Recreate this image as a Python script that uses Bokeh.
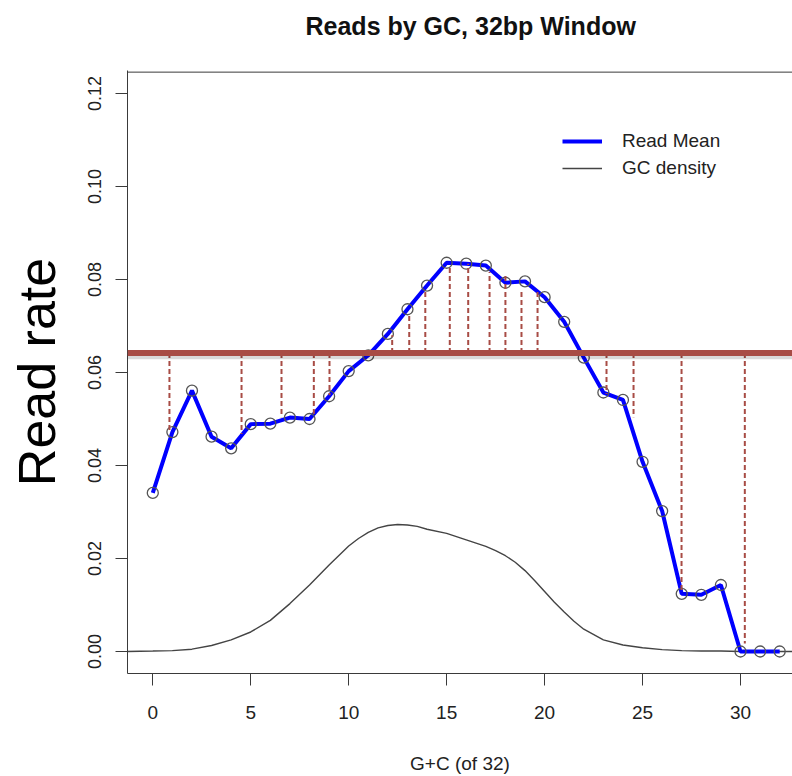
from bokeh.plotting import figure
from bokeh.models import (Range1d, FixedTicker, NumeralTickFormatter, Span, Legend,
                          LegendItem, ColumnDataSource, Title)
from bokeh.embed import file_html
from bokeh.resources import INLINE

# ---- data ----
gc_count = list(range(33))
read_mean = [0.0341, 0.0472, 0.0561, 0.0462, 0.0437, 0.0489, 0.0490, 0.0503, 0.0500,
             0.0549, 0.0603, 0.0637, 0.0683, 0.0736, 0.0787, 0.0836, 0.0834, 0.0830,
             0.0793, 0.0796, 0.0762, 0.0709, 0.0632, 0.0557, 0.0541, 0.0408, 0.0302,
             0.0124, 0.0122, 0.0143, 0.0, 0.0, 0.0]

density_x = [-1.3, 0, 1, 2, 3, 4, 5, 6, 7, 8, 9, 10, 10.5, 11, 11.5, 12, 12.5, 13, 13.5,
             14, 15, 16, 17, 17.5, 18, 18.5, 19, 19.5, 20, 20.5, 21, 21.5, 22, 23, 24,
             25, 26, 27, 28, 29, 30, 31, 32, 32.7]
density_y = [0.0000, 0.0001, 0.0002, 0.0005, 0.0013, 0.0025, 0.0042, 0.0067, 0.0103,
             0.0143, 0.0186, 0.0227, 0.0243, 0.0256, 0.0266, 0.0271, 0.0273, 0.0272,
             0.0269, 0.0263, 0.0254, 0.0240, 0.0226, 0.0217, 0.0206, 0.0192, 0.0174,
             0.0152, 0.0129, 0.0106, 0.0085, 0.0065, 0.0048, 0.0025, 0.0014, 0.0008,
             0.0004, 0.0002, 0.0001, 0.0001, 0.0, 0.0, 0.0, 0.0]

baseline_rate = 0.0642
resid_x = [0.85, 4.53, 6.57, 8.22, 9.02, 12.22, 13.09, 13.91, 15.16, 16.10, 17.19,
           18.00, 18.82, 19.64, 23.16, 24.54, 26.99, 30.22]
resid_end = [0.0472, 0.0468, 0.0504, 0.0504, 0.0551, 0.0680, 0.0726, 0.0776, 0.0830,
             0.0834, 0.0816, 0.0812, 0.0773, 0.0773, 0.0554, 0.0504, 0.0131, 0.0017]

x_ticks = [0, 5, 10, 15, 20, 25, 30]
y_ticks = [0.0, 0.02, 0.04, 0.06, 0.08, 0.10, 0.12]

FONT = "Liberation Sans"
RED = "#a84c45"
AX = "#3a3a3a"

p = figure(width=792, height=776, output_backend="svg", toolbar_location=None,
           x_range=Range1d(-1.291, 32.654), y_range=Range1d(-0.00473, 0.12495),
           min_border_left=127, min_border_right=0, min_border_top=70,
           min_border_bottom=103, title="Reads by GC, 32bp Window")
p.outline_line_color = None
p.grid.visible = False
p.background_fill_color = "white"
p.border_fill_color = "white"

p.title.text_font = FONT
p.title.text_font_size = "25px"
p.title.text_font_style = "bold"
p.title.text_color = "#111111"
p.title.align = "left"
p.title.offset = 178
p.title.vertical_align = "top"
p.title.standoff = 18

# empty spacer between the frame and the title
p.add_layout(Title(text=" ", text_font_size="14px", standoff=2), "above")

# axes
xa = p.xaxis[0]
xa.ticker = FixedTicker(ticks=x_ticks)
xa.major_tick_out = 12
xa.major_tick_in = 0
xa.minor_tick_out = 0
xa.minor_tick_in = 0
xa.axis_line_color = AX
xa.major_tick_line_color = AX
xa.major_label_text_font = FONT
xa.major_label_text_font_size = "19px"
xa.major_label_text_color = "#222222"
xa.major_label_standoff = 20
xa.axis_label = "G+C (of 32)"
xa.axis_label_text_font = FONT
xa.axis_label_text_font_size = "19px"
xa.axis_label_text_font_style = "normal"
xa.axis_label_text_color = "#222222"
xa.axis_label_standoff = 31

ya = p.yaxis[0]
ya.ticker = FixedTicker(ticks=y_ticks)
ya.formatter = NumeralTickFormatter(format="0.00")
ya.major_label_orientation = "vertical"
ya.major_tick_out = 12
ya.major_tick_in = 0
ya.minor_tick_out = 0
ya.minor_tick_in = 0
ya.axis_line_color = AX
ya.major_tick_line_color = AX
ya.major_label_text_font = FONT
ya.major_label_text_font_size = "18px"
ya.major_label_text_color = "#222222"
ya.major_label_standoff = 14
ya.axis_label = "Read rate"
ya.axis_label_text_font = FONT
ya.axis_label_text_font_size = "52px"
ya.axis_label_text_font_style = "normal"
ya.axis_label_text_color = "black"
ya.axis_label_standoff = 20

# top border of the box
p.add_layout(Span(location=0.1246, dimension="width", line_color=AX, line_width=1))

dens = p.line(density_x, density_y, line_color="#444444", line_width=1.4)
blue = p.line(gc_count, read_mean, line_color="#0000ff", line_width=4)
p.scatter(gc_count, read_mean, marker="circle", size=11, fill_color=None,
          line_color="#555555", line_width=1.3)

src = ColumnDataSource(dict(x=resid_x, y0=[baseline_rate] * len(resid_x), y1=resid_end))
p.segment(x0="x", y0="y0", x1="x", y1="y1", source=src, line_color=RED,
          line_width=2, line_dash="5 3")

# overlay baseline with soft shadow
p.add_layout(Span(location=baseline_rate - 0.0008, dimension="width", line_color="black",
                  line_alpha=0.15, line_width=5))
p.add_layout(Span(location=baseline_rate, dimension="width", line_color=RED, line_width=6))

legend = Legend(items=[LegendItem(label="Read Mean", renderers=[blue]),
                       LegendItem(label="GC density", renderers=[dens])],
                location=(435, 494), border_line_color=None, background_fill_alpha=0,
                padding=0, margin=0, glyph_width=40, glyph_height=20, label_height=20,
                spacing=5, label_standoff=20, label_text_font=FONT,
                label_text_font_size="19px", label_text_color="#222222")
p.add_layout(legend)

open("out.html", "w").write(file_html(p, INLINE))
